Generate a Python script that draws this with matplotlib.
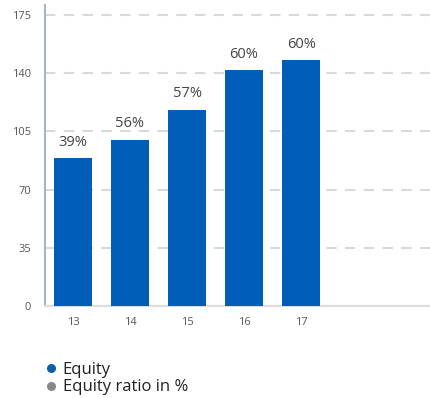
import matplotlib
matplotlib.use('Agg')
import matplotlib.pyplot as plt
from matplotlib.lines import Line2D

# Equity (bars) and equity ratio (labels above bars)
years = ['13', '14', '15', '16', '17']
equity = [89, 100, 118, 142, 148]
equity_ratio = [39, 56, 57, 60, 60]
y_ticks = [0, 35, 70, 105, 140, 175]

BAR_COLOR = '#005EB8'
TEXT_COLOR = '#555555'

plt.rcParams['font.family'] = ['Open Sans', 'DejaVu Sans']

fig = plt.figure(figsize=(4.30, 3.98), dpi=100)
ax = fig.add_axes([45 / 430, 1 - 306 / 398, 1 - 45 / 430, (306 - 5) / 398])

x = list(range(len(years)))
ax.bar(x, equity, width=0.67, color=BAR_COLOR, zorder=3)

for xi, val, pct in zip(x, equity, equity_ratio):
    ax.annotate(f'{pct}%', (xi, val), xytext=(0, 6), textcoords='offset points',
                ha='center', va='bottom', fontsize=10.5, color='#444444')

ax.set_xlim(-0.49, 6.26)
ax.set_ylim(0, 181)
ax.set_xticks(x)
ax.set_xticklabels(years)
ax.set_yticks(y_ticks)
ax.tick_params(axis='both', length=0, labelsize=8, colors=TEXT_COLOR)
ax.tick_params(axis='y', pad=10)
ax.tick_params(axis='x', pad=8)

ax.yaxis.grid(True, color='#d9d9d9', linestyle=(0, (5, 4)), linewidth=1.5, zorder=0)
ax.set_axisbelow(True)
for side in ['top', 'right']:
    ax.spines[side].set_visible(False)
ax.spines['left'].set_color('#a7b4c2')
ax.spines['left'].set_linewidth(1.5)
ax.spines['bottom'].set_color('#dddddd')
ax.spines['bottom'].set_linewidth(1.5)

handles = [
    Line2D([], [], marker='o', linestyle='none', markersize=6.5,
           markerfacecolor='#0a5fa8', markeredgecolor='none'),
    Line2D([], [], marker='o', linestyle='none', markersize=6.5,
           markerfacecolor='#888888', markeredgecolor='none'),
]
fig.legend(handles, ['Equity', 'Equity ratio in %'], loc='upper left',
           bbox_to_anchor=(37 / 430, 1 - 355 / 398), frameon=False,
           fontsize=12, handletextpad=0.25, labelspacing=0.1,
           borderaxespad=0, handlelength=0.9, labelcolor='#222222')

fig.savefig('out.png', dpi=100)
